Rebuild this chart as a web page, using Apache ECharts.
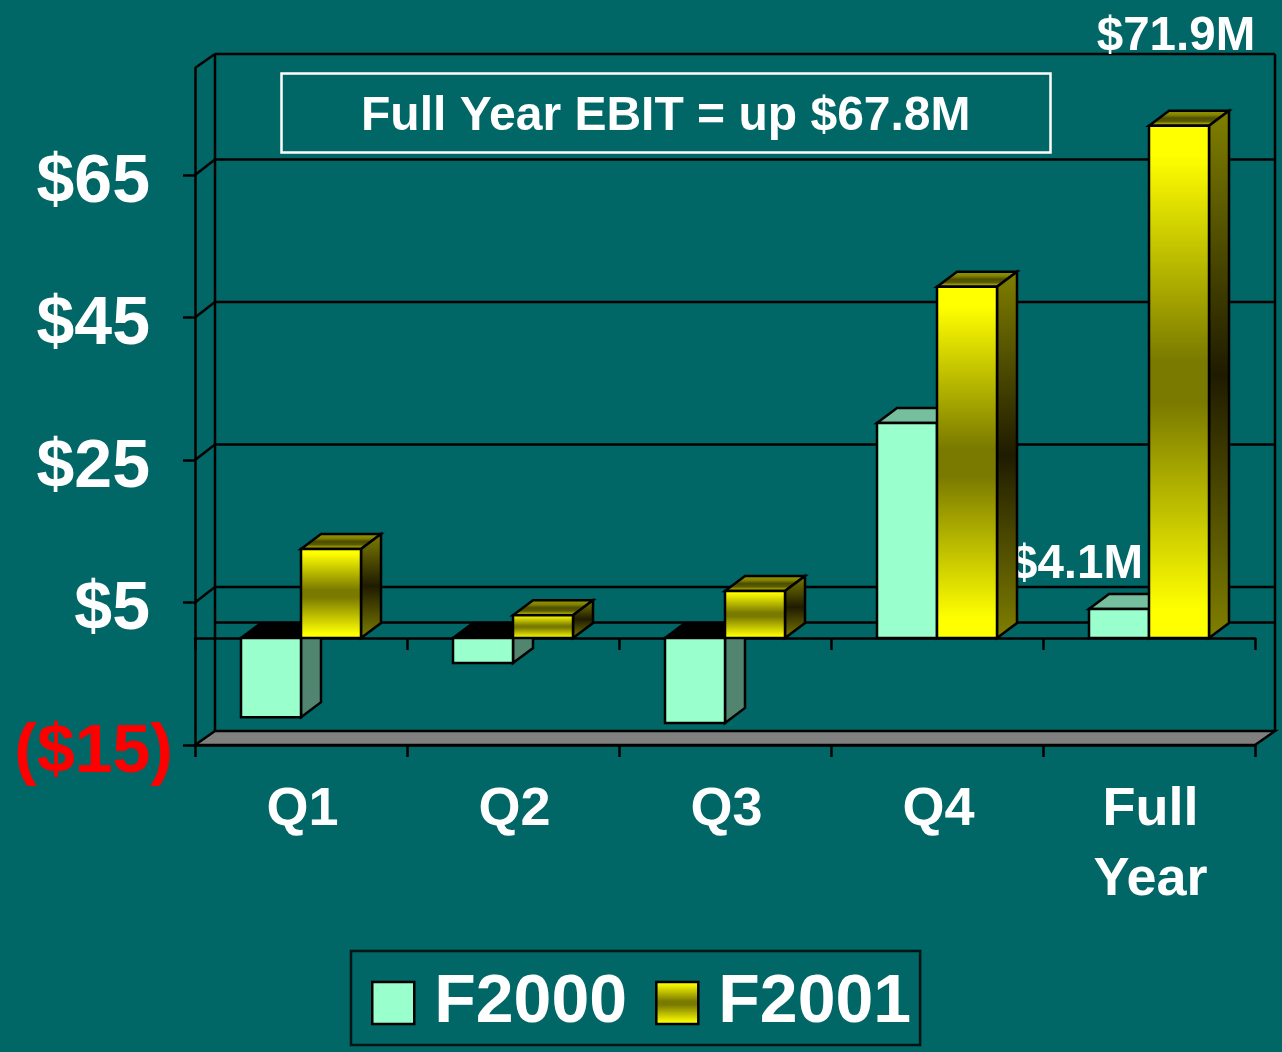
<!DOCTYPE html>
<html>
<head>
<meta charset="utf-8">
<style>html,body{margin:0;padding:0;background:#006666}#c{width:1282px;height:1052px}</style>
<script src="https://cdn.jsdelivr.net/npm/echarts@6/dist/echarts.min.js"></script>
</head>
<body>
<div id="c"></div>
<script>
const categories = ['Q1', 'Q2', 'Q3', 'Q4', 'Full\nYear'];
const f2000 = [-11.1, -3.5, -11.9, 30.2, 4.1];
const f2001 = [12.5, 3.2, 6.6, 49.3, 71.9];
const f2000Labels = ['', '', '', '', '$4.1M'];
const f2001Labels = ['', '', '', '', '$71.9M'];
const yTicks = [-15, 5, 25, 45, 65];
const yTickLabels = ['($15)', '$5', '$25', '$45', '$65'];
const backLines = [0, 5, 25, 45, 65];
const note = 'Full Year EBIT = up $67.8M';

const FONT = '"Liberation Sans", Arial, sans-serif';
const BG = '#006666';
const DX = 20, DY = 15, WALL_DY = 15.5, EDGE_DY = 14, BAR_W = 60, LW = 2.5;

function grad(stops) {
  return { type: 'linear', x: 0, y: 0, x2: 0, y2: 1,
    colorStops: stops.map(s => ({ offset: s[0], color: s[1] })) };
}
const goldFront = grad([[0, '#ffff00'], [0.06, '#ffff00'], [0.46, '#7a7a00'], [0.54, '#7a7a00'], [0.94, '#ffff00'], [1, '#ffff00']]);
const goldSide = grad([[0, '#808000'], [0.5, '#1f1b00'], [1, '#808000']]);
const goldTop = grad([[0, '#999900'], [0.3, '#858500'], [0.5, '#4d4d00'], [0.68, '#5c5c00'], [0.8, '#999900'], [1, '#a0a000']]);
const mintFront = '#99ffcc';
const styles = {
  mint: { front: mintFront, side: '#528570', top: '#75bf9e', topNeg: '#000000' },
  gold: { front: goldFront, side: goldSide, top: goldTop, topNeg: goldTop }
};

function bar3d(offset, look, labels, labelShift) {
  return function (params, api) {
    const i = api.value(0), v = api.value(1);
    const c = api.coord([i, v]), z = api.coord([i, 0]);
    const x0 = c[0] + offset, x1 = x0 + BAR_W;
    const yTop = Math.min(c[1], z[1]), yBot = Math.max(c[1], z[1]);
    const line = { stroke: '#000', lineWidth: LW, lineJoin: 'miter' };
    const poly = (pts, fill) => ({ type: 'polygon', shape: { points: pts }, style: Object.assign({ fill }, line) });
    const children = [
      poly([[x0, yTop], [x0 + DX, yTop - DY], [x1 + DX, yTop - DY], [x1, yTop]], v < 0 ? look.topNeg : look.top),
      poly([[x1, yTop], [x1 + DX, yTop - DY], [x1 + DX, yBot - DY], [x1, yBot]], look.side),
      poly([[x0, yTop], [x1, yTop], [x1, yBot], [x0, yBot]], look.front)
    ];
    if (labels[i]) {
      children.push({
        type: 'text', z2: 50,
        style: { text: labels[i], x: x0 + labelShift[0], y: yTop + labelShift[1], fill: '#fff',
          font: 'bold 47.5px ' + FONT, align: 'center', verticalAlign: 'middle' }
      });
    }
    return { type: 'group', children };
  };
}

function walls(params, api) {
  const v = api.value(0);
  const cs = params.coordSys;
  const y = api.coord([0, v])[1];
  const L = cs.x, R = cs.x + cs.width, T = cs.y, B = cs.y + cs.height;
  const st = { stroke: '#000', lineWidth: LW, fill: null };
  const seg = (a, b) => ({ type: 'line', shape: { x1: a[0], y1: a[1], x2: b[0], y2: b[1] }, style: st });
  const kids = [seg([L + DX, y - WALL_DY], [R + DX, y - WALL_DY])];
  if (v !== 0) kids.push(seg([L, y], [L + DX, y - WALL_DY]));
  if (params.dataIndex === 0) {
    kids.push(seg([L + DX, T - EDGE_DY], [L + DX, B - EDGE_DY]));
    kids.push(seg([R + DX, T - EDGE_DY], [R + DX, B - EDGE_DY]));
    kids.push(seg([L + DX, T - EDGE_DY], [R + DX, T - EDGE_DY]));
    kids.push(seg([L, T], [L + DX, T - EDGE_DY]));
    kids.push({ type: 'polygon', shape: { points: [[L, B], [L + DX, B - EDGE_DY], [R + DX, B - EDGE_DY], [R, B]] },
      style: { fill: '#808080', stroke: '#000', lineWidth: LW } });
  }
  return { type: 'group', children: kids };
}

const chart = echarts.init(document.getElementById('c'), null, { renderer: 'canvas' });
const axisLine = { lineStyle: { color: '#000', width: LW } };
chart.setOption({
  backgroundColor: BG,
  animation: false,
  title: {
    text: note, left: 281, top: 73,
    padding: [18, 80, 10, 80],
    borderColor: '#ffffff', borderWidth: 2.5,
    textStyle: { color: '#fff', fontFamily: FONT, fontWeight: 'bold', fontSize: 48, lineHeight: 52 }
  },
  legend: {
    left: 351, top: 951,
    data: [
      { name: 'F2000', icon: 'rect', itemStyle: { color: mintFront, borderColor: '#000', borderWidth: 2.5 } },
      { name: 'F2001', icon: 'rect', itemStyle: { color: goldFront, borderColor: '#000', borderWidth: 2.5 } }
    ],
    padding: [18, 9, 8, 20],
    itemWidth: 42, itemHeight: 42, itemGap: 28,
    borderColor: '#001414', borderWidth: 2.5,
    selectedMode: false,
    textStyle: { color: '#fff', fontFamily: FONT, fontWeight: 'bold', fontSize: 68, padding: [6, 0, 0, 15] }
  },
  grid: { left: 195, right: 27, top: 68, bottom: 307, containLabel: false },
  xAxis: [
    { type: 'category', data: categories, position: 'bottom',
      axisLine: Object.assign({ onZero: true }, axisLine),
      axisTick: { show: true, length: 12, lineStyle: { color: '#000', width: LW } },
      axisLabel: { show: false }, splitLine: { show: false } },
    { type: 'category', data: categories, position: 'bottom',
      axisLine: Object.assign({ onZero: false }, axisLine),
      axisTick: { show: true, length: 12, lineStyle: { color: '#000', width: LW } },
      axisLabel: { show: true, interval: 0, margin: 30, color: '#fff', fontFamily: FONT, fontWeight: 'bold',
        fontSize: 54, lineHeight: 70, padding: [0, 0, 0, 3] },
      splitLine: { show: false } }
  ],
  yAxis: {
    type: 'value', min: -15, max: 80,
    axisLine: Object.assign({ show: true }, axisLine),
    axisTick: { show: true, length: 12, customValues: yTicks, lineStyle: { color: '#000', width: LW } },
    splitLine: { show: false },
    axisLabel: {
      customValues: yTicks, margin: 22, showMinLabel: true, showMaxLabel: true,
      fontFamily: FONT, fontWeight: 'bold', fontSize: 68,
      formatter: v => {
        const t = yTickLabels[yTicks.indexOf(v)];
        return v < 0 ? '{neg|' + t + '}' : '{pos|' + t + '}';
      },
      rich: {
        pos: { color: '#fff', fontFamily: FONT, fontWeight: 'bold', fontSize: 68, padding: [16, 23, 0, 0] },
        neg: { color: '#ff0000', fontFamily: FONT, fontWeight: 'bold', fontSize: 68, padding: [16, 0, 0, 0] }
      }
    }
  },
  series: [
    { type: 'custom', name: 'walls', z: 1, silent: true, data: backLines.map(v => [v]),
      renderItem: walls, encode: { y: 0 } },
    { type: 'custom', name: 'F2000', z: 3, itemStyle: { color: mintFront },
      data: f2000.map((v, i) => [i, v]), encode: { x: 0, y: 1 },
      renderItem: bar3d(-BAR_W, styles.mint, f2000Labels, [-12, -44]) },
    { type: 'custom', name: 'F2001', z: 4, itemStyle: { color: goldFront },
      data: f2001.map((v, i) => [i, v]), encode: { x: 0, y: 1 },
      renderItem: bar3d(0, styles.gold, f2001Labels, [27, -89]) }
  ]
});
</script>
</body>
</html>
